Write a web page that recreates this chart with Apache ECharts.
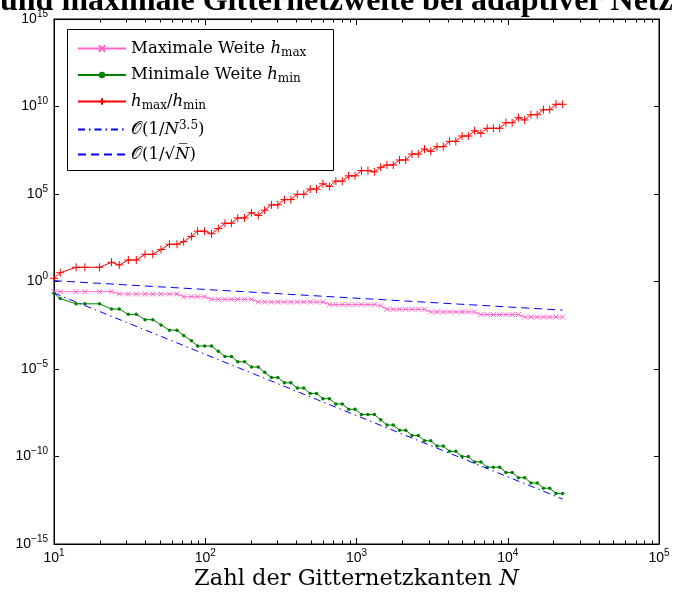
<!DOCTYPE html>
<html><head><meta charset="utf-8">
<script src="https://cdn.jsdelivr.net/npm/echarts@6/dist/echarts.min.js"></script>
<style>html,body{margin:0;padding:0;background:#fff}#c{width:673px;height:598px}</style>
</head><body><div id="c"></div>
<script>
// Number of grid edges N
const N = [10, 11, 14, 16, 20, 24, 27, 31, 35, 40, 45, 51, 58, 65, 72, 81, 89, 99, 110, 122,
  135, 149, 164, 182, 202, 224, 247, 274, 302, 334, 368, 406, 448, 494, 544, 600, 662, 730, 805, 887,
  978, 1079, 1190, 1312, 1445, 1590, 1749, 1924, 2116, 2328, 2560, 2816, 3098, 3408, 3748, 4123, 4536, 4989, 5488, 6037,
  6641, 7305, 8035, 8839, 9723, 10695, 11765, 12941, 14235, 15659, 17225, 18947, 20842, 23070];
// Maximale Weite h_max
const hMax = [0.263, 0.263, 0.263, 0.263, 0.263, 0.263,
  0.193, 0.193, 0.193, 0.193, 0.193, 0.193, 0.193, 0.193,
  0.135, 0.135, 0.135, 0.135,
  0.0962, 0.0962, 0.0962, 0.0962, 0.0962, 0.0962, 0.0962,
  0.0675, 0.0675, 0.0675, 0.0675, 0.0675, 0.0675, 0.0675, 0.0675, 0.0675, 0.0675, 0.0675,
  0.0478, 0.0478, 0.0478, 0.0478, 0.0478, 0.0478, 0.0478, 0.0478,
  0.041,
  0.0257, 0.0257, 0.0257, 0.0257, 0.0257, 0.0257, 0.0257,
  0.0182, 0.0182, 0.0182, 0.0182, 0.0182, 0.0182, 0.0182, 0.0182,
  0.0129, 0.0129, 0.0129, 0.0129, 0.0129, 0.0129, 0.0129,
  0.0093, 0.0093, 0.0093, 0.0093, 0.0093, 0.0093, 0.0093];
// Minimale Weite h_min
const hMin = [0.212, 0.106, 0.053, 0.053, 0.053, 0.0265, 0.0265, 0.01325, 0.01325, 6.62e-3,
  6.62e-3, 3.31e-3, 1.66e-3, 1.66e-3, 8.28e-4, 4.14e-4, 2.07e-4, 2.07e-4, 2.07e-4, 1.035e-4,
  5.17e-5, 5.17e-5, 2.59e-5, 2.59e-5, 1.29e-5, 1.29e-5, 6.47e-6, 3.23e-6, 3.23e-6, 1.62e-6,
  1.62e-6, 8.08e-7, 8.08e-7, 4.04e-7, 4.04e-7, 2.02e-7, 2.02e-7, 1.01e-7, 1.01e-7, 5.05e-8,
  5.05e-8, 2.53e-8, 2.53e-8, 2.53e-8, 1.26e-8, 6.32e-9, 6.32e-9, 3.16e-9, 3.16e-9, 1.58e-9,
  1.58e-9, 7.9e-10, 7.9e-10, 3.95e-10, 3.95e-10, 1.97e-10, 1.97e-10, 9.87e-11, 9.87e-11, 4.93e-11,
  4.93e-11, 2.47e-11, 2.47e-11, 2.47e-11, 1.23e-11, 1.23e-11, 6.17e-12, 6.17e-12, 3.08e-12, 3.08e-12,
  1.54e-12, 1.54e-12, 7.71e-13, 7.71e-13];
// h_max / h_min
const ratio = [1.52, 3.18, 6.47, 6.47, 6.47, 12.5, 8.77, 16.9, 16.9, 35.8,
  35.8, 67, 134, 134, 188, 375, 750, 750, 533, 1067,
  2133, 2133, 4266, 4266, 8531, 5984, 11970, 23930, 23930, 47860,
  47860, 95720, 95720, 1.91e5, 1.91e5, 3.83e5, 2.72e5, 5.43e5, 5.43e5, 1.09e6,
  1.09e6, 2.17e6, 2.17e6, 1.85e6, 3.36e6, 4.54e6, 4.54e6, 8.77e6, 8.77e6, 1.93e7,
  1.93e7, 3.72e7, 2.75e7, 5.05e7, 5.05e7, 1.02e8, 1.02e8, 2.06e8, 2.06e8, 4.14e8,
  2.94e8, 5.68e8, 5.68e8, 5.68e8, 1.19e9, 1.19e9, 2.29e9, 1.69e9, 3.40e9, 3.40e9,
  6.56e9, 6.56e9, 1.34e10, 1.34e10];
// Reference slopes
const refN = [10, 23070];
const refPow35 = [0.219, 3.7e-13];
const refSqrt = [1.11, 0.0232];
// Axis ranges / ticks
const xMin = 10, xMax = 1e5;
const yMin = 1e-15, yMax = 1e15;
const yStepDecades = 5;
const minorDecades = [10, 100, 1000, 10000];
const minorMult = [2, 3, 4, 5, 6, 7, 8, 9];

const chart = echarts.init(document.getElementById('c'), null, {renderer: 'canvas'});
const CROSS = 'path://M-1,-1L1,1M-1,1L1,-1';
const PLUS = 'path://M0,-1L0,1M-1,0L1,0';
const PINK = '#ff66cc', GREEN = '#008000', RED = '#ff0000', BLUE = '#0000ff';

function pow10Label(v) {
  const e = Math.round(Math.log10(v));
  return '{b|10}{e|' + (e < 0 ? '\u2212' : '') + Math.abs(e) + '}';
}
const labRich = {
  b: {fontFamily: 'Liberation Sans', fontSize: 14, color: '#000', lineHeight: 20, verticalAlign: 'middle'},
  e: {fontFamily: 'Liberation Sans', fontSize: 10, color: '#000', lineHeight: 10, verticalAlign: 'top'}
};
const SERIF = 'DejaVu Serif';
const LFS = 16.5;
const legRich = {
  t: {fontFamily: SERIF, fontSize: LFS, color: '#000', lineHeight: 20},
  i: {fontFamily: SERIF, fontStyle: 'italic', fontSize: LFS, color: '#000', lineHeight: 20},
  s: {fontFamily: SERIF, fontSize: 12, color: '#000', lineHeight: 14, verticalAlign: 'bottom'},
  p: {fontFamily: SERIF, fontSize: 12, color: '#000', lineHeight: 14, verticalAlign: 'top'}
};
const legendText = {
  hmax: '{t|Maximale Weite }{i|h}{s|max}',
  hmin: '{t|Minimale Weite }{i|h}{s|min}',
  ratio: '{i|h}{s|max}{t|/}{i|h}{s|min}',
  o35: '{t|\uD835\uDCAA(1/}{i|N}{p|3.5}{t|)}',
  osqrt: '{t|\uD835\uDCAA(1/\u221A}{i|N\u0305}{t|)}'
};

function pts(xs, ys) { return xs.map((x, i) => [x, ys[i]]); }

const axisCommon = {
  axisLine: {show: true, lineStyle: {color: '#000', width: 1}},
  splitLine: {show: false},
  minorTick: {show: false}
};

const option = {
  animation: false,
  backgroundColor: '#fff',
  grid: {left: 54, right: 14, top: 19, bottom: 54, show: true, borderColor: '#000', borderWidth: 1,
    backgroundColor: '#fff', containLabel: false, outerBoundsMode: 'none'},
  xAxis: [
    Object.assign({type: 'log', logBase: 10, min: xMin, max: xMax, interval: 1, position: 'bottom',
      axisTick: {show: true, inside: true, length: 6, lineStyle: {color: '#000'}},
      axisLabel: {formatter: pow10Label, rich: labRich, margin: 4},
      name: 'Zahl der Gitternetzkanten {i|N}', nameLocation: 'middle', nameGap: 22, nameMoveOverlap: false,
      nameTextStyle: {fontFamily: SERIF, fontSize: 22.5, color: '#000', lineHeight: 26,
        rich: {i: {fontFamily: SERIF, fontStyle: 'italic', fontSize: 22.5, color: '#000', lineHeight: 26}}}
    }, axisCommon),
    Object.assign({type: 'log', logBase: 10, min: xMin, max: xMax, interval: 1, position: 'top',
      axisTick: {show: true, inside: true, length: 6, lineStyle: {color: '#000'}},
      axisLabel: {show: false}}, axisCommon)
  ],
  yAxis: [
    Object.assign({type: 'log', logBase: 10, min: yMin, max: yMax, interval: yStepDecades, splitNumber: 6, position: 'left',
      axisTick: {show: true, inside: true, length: 5, lineStyle: {color: '#000'}},
      axisLabel: {formatter: pow10Label, rich: labRich, margin: 6, align: 'right'}}, axisCommon),
    Object.assign({type: 'log', logBase: 10, min: yMin, max: yMax, interval: yStepDecades, splitNumber: 6, position: 'right',
      axisTick: {show: true, inside: true, length: 5, lineStyle: {color: '#000'}},
      axisLabel: {show: false}}, axisCommon)
  ],
  legend: {
    orient: 'vertical', left: 67, top: 30, padding: [10, 10, 8, 10],
    itemWidth: 48, itemHeight: 8, itemGap: 8, selectedMode: false,
    data: ['hmax', 'hmin', 'ratio', {name: 'o35', itemStyle: {opacity: 0}}, {name: 'osqrt', itemStyle: {opacity: 0}}],
    formatter: name => legendText[name],
    textStyle: {fontFamily: SERIF, fontSize: LFS, color: '#000', rich: legRich}
  },
  series: [
    {name: 'hmax', type: 'line', data: pts(N, hMax), symbol: CROSS, symbolSize: 5, showSymbol: true, showAllSymbol: true,
      lineStyle: {color: PINK, width: 1}, itemStyle: {color: PINK, borderColor: PINK, borderWidth: 1}, color: PINK, silent: true, z: 3},
    {name: 'hmin', type: 'line', data: pts(N, hMin), symbol: 'circle', symbolSize: 3.5, showSymbol: true, showAllSymbol: true,
      lineStyle: {color: GREEN, width: 1}, itemStyle: {color: GREEN, borderWidth: 0}, color: GREEN, silent: true, z: 4},
    {name: 'ratio', type: 'line', data: pts(N, ratio), symbol: PLUS, symbolSize: 8, showSymbol: true, showAllSymbol: true,
      lineStyle: {color: RED, width: 1}, itemStyle: {color: RED, borderColor: RED, borderWidth: 1}, color: RED, silent: true, z: 5},
    {name: 'o35', type: 'line', data: pts(refN, refPow35), symbol: 'none', showSymbol: false,
      lineStyle: {color: BLUE, width: 1, type: [7, 4, 1.5, 4]}, color: BLUE, silent: true, z: 6},
    {name: 'osqrt', type: 'line', data: pts(refN, refSqrt), symbol: 'none', showSymbol: false,
      lineStyle: {color: BLUE, width: 1, type: [8, 5]}, color: BLUE, silent: true, z: 7}
  ]
};
chart.setOption(option);

// Extra graphics: title (clipped as in original), legend box, minor log ticks
function buildGraphics() {
  const g = [];
  g.push({type: 'text', id: 'title', x: 0, y: 2, z: 100,
    style: {text: 'und maximale Gitternetzweite bei adaptiver Netzverfeinerung', font: 'bold 32px "Liberation Serif"',
      fill: '#000', textAlign: 'left', textVerticalAlign: 'middle'}});
  g.push({type: 'rect', id: 'legbox', z: 50, shape: {x: 67.5, y: 29.5, width: 266, height: 141},
    style: {fill: null, stroke: '#000', lineWidth: 1}});
  const yB = chart.convertToPixel({yAxisIndex: 0}, yMin);
  const yT = chart.convertToPixel({yAxisIndex: 0}, yMax);
  let k = 0;
  minorDecades.forEach(d => minorMult.forEach(m => {
    const x = Math.round(chart.convertToPixel({xAxisIndex: 0}, m * d)) + 0.5;
    g.push({type: 'line', id: 'mb' + k, z: 60, shape: {x1: x, y1: yB, x2: x, y2: yB - 3.5}, style: {stroke: '#000', lineWidth: 1}});
    g.push({type: 'line', id: 'mt' + k, z: 60, shape: {x1: x, y1: yT, x2: x, y2: yT + 3.5}, style: {stroke: '#000', lineWidth: 1}});
    k++;
  }));
  return g;
}
chart.setOption({graphic: buildGraphics()});
</script>
</body></html>
